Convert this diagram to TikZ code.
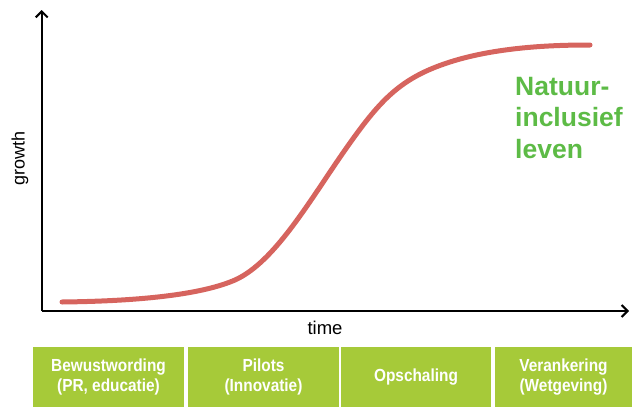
\documentclass[tikz,border=0pt]{standalone}
\usepackage{fontspec}
\setmainfont{Liberation Sans}
\newfontfamily\phasefont[FakeStretch=0.88]{Liberation Sans}
\usetikzlibrary{arrows.meta}
\definecolor{curvered}{RGB}{214,100,94}
\definecolor{phasegreen}{RGB}{166,202,57}
\definecolor{labelgreen}{RGB}{93,187,70}

\begin{document}
\begin{tikzpicture} [x=1pt, y=-1pt,
        axis/.style={line width=2pt, black, -{Straight Barb[length=6pt,width=12pt,line width=2pt]}},
        phase/.style={fill=phasegreen, text=white, align=center, inner sep=0pt,
          font=\phasefont\bfseries\fontsize{17.5}{19.5}\selectfont, minimum height=61pt}]
        \useasboundingbox (0,0) rectangle (632,407);
        \coordinate (origin) at (41.7,311);
        \coordinate (ytop) at (41.7,10);
        \coordinate (xend) at (629,311);
        \draw[axis] (origin) -- (ytop);
        \draw[axis] (origin) -- (xend);
        \node[rotate=90, font=\fontsize{18}{20}\selectfont] (growth) at (20,158) {growth};
        \node[font=\fontsize{18.5}{20}\selectfont] (time) at (325,328) {time};
        % s-curve
        \draw[curvered, line width=5pt, line cap=round]
          (62,302) .. controls (150,301) and (205,293) .. (235,280)
          .. controls (275,262) and (310,200) .. (345,150)
          .. controls (380,100) and (400,78) .. (450,62)
          .. controls (500,46) and (560,45) .. (590,45);
        \node[anchor=base west, align=left, inner sep=0pt, text=labelgreen,
          font=\bfseries\fontsize{26.5}{31.5}\selectfont] (goal) at (515,158) {Natuur-\\inclusief\\leven};
        \foreach \n/\a/\b/\txt in {bewust/33/184/{Bewustwording\\(PR, educatie)},
            pilots/188/339/{Pilots\\(Innovatie)},
            opschaling/341/491/{Opschaling},
            verankering/495/632/{Verankering\\(Wetgeving)}} {
          \node[phase, minimum width={(\b-\a)*1pt}] (\n) at ({(\a+\b)/2},377) {\txt};
        };
      \end{tikzpicture}
\end{document}
